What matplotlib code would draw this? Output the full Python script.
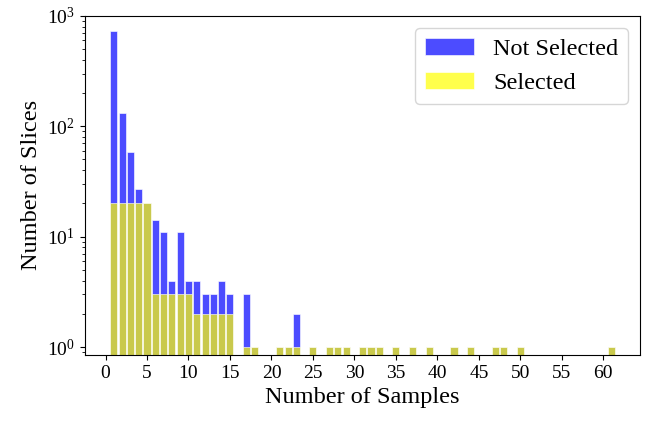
import numpy as np
import matplotlib
matplotlib.use('Agg')
import matplotlib.pyplot as plt

plt.rcParams['font.family'] = ['Liberation Serif', 'DejaVu Serif']
plt.rcParams['mathtext.fontset'] = 'custom'
plt.rcParams['mathtext.rm'] = 'Liberation Serif'

# number of samples per slice -> how many slices
samples = [1, 2, 3, 4, 5, 6, 7, 8, 9, 10, 11, 12, 13, 14, 15, 17, 18,
           21, 22, 23, 25, 27, 28, 29, 31, 32, 33, 35, 37, 39, 42, 44,
           47, 48, 50, 61]
all_slices = [735, 133, 59, 27, 20, 14, 11, 4, 11, 4, 4, 3, 3, 4, 3, 3, 1,
              1, 1, 2, 1, 1, 1, 1, 1, 1, 1, 1, 1, 1, 1, 1,
              1, 1, 1, 1]
selected = [20, 20, 20, 20, 20, 3, 3, 3, 3, 3, 2, 2, 2, 2, 2, 1, 1,
            1, 1, 1, 1, 1, 1, 1, 1, 1, 1, 1, 1, 1, 1, 1,
            1, 1, 1, 1]

fig = plt.figure(figsize=(6.52, 4.28), dpi=100)
ax = fig.add_axes([0.130, 0.171, 0.852, 0.792])

ax.bar(samples, all_slices, width=0.85, color='blue', alpha=0.7,
       edgecolor='white', linewidth=0.6, label='Not Selected')
ax.bar(samples, selected, width=0.85, color='yellow', alpha=0.7,
       edgecolor='white', linewidth=0.6, label='Selected')

ax.set_yscale('log')
ax.set_ylim(0.85, 1000)
ax.set_xlim(-2.5, 64.45)
ax.set_xticks(np.arange(0, 61, 5))
ax.tick_params(axis='both', labelsize=14)

ax.set_xlabel('Number of Samples', fontsize=17.5)
ax.set_ylabel('Number of Slices', fontsize=17.5)
ax.legend(loc='upper right', fontsize=17.5)

fig.savefig('out.png', dpi=100)
